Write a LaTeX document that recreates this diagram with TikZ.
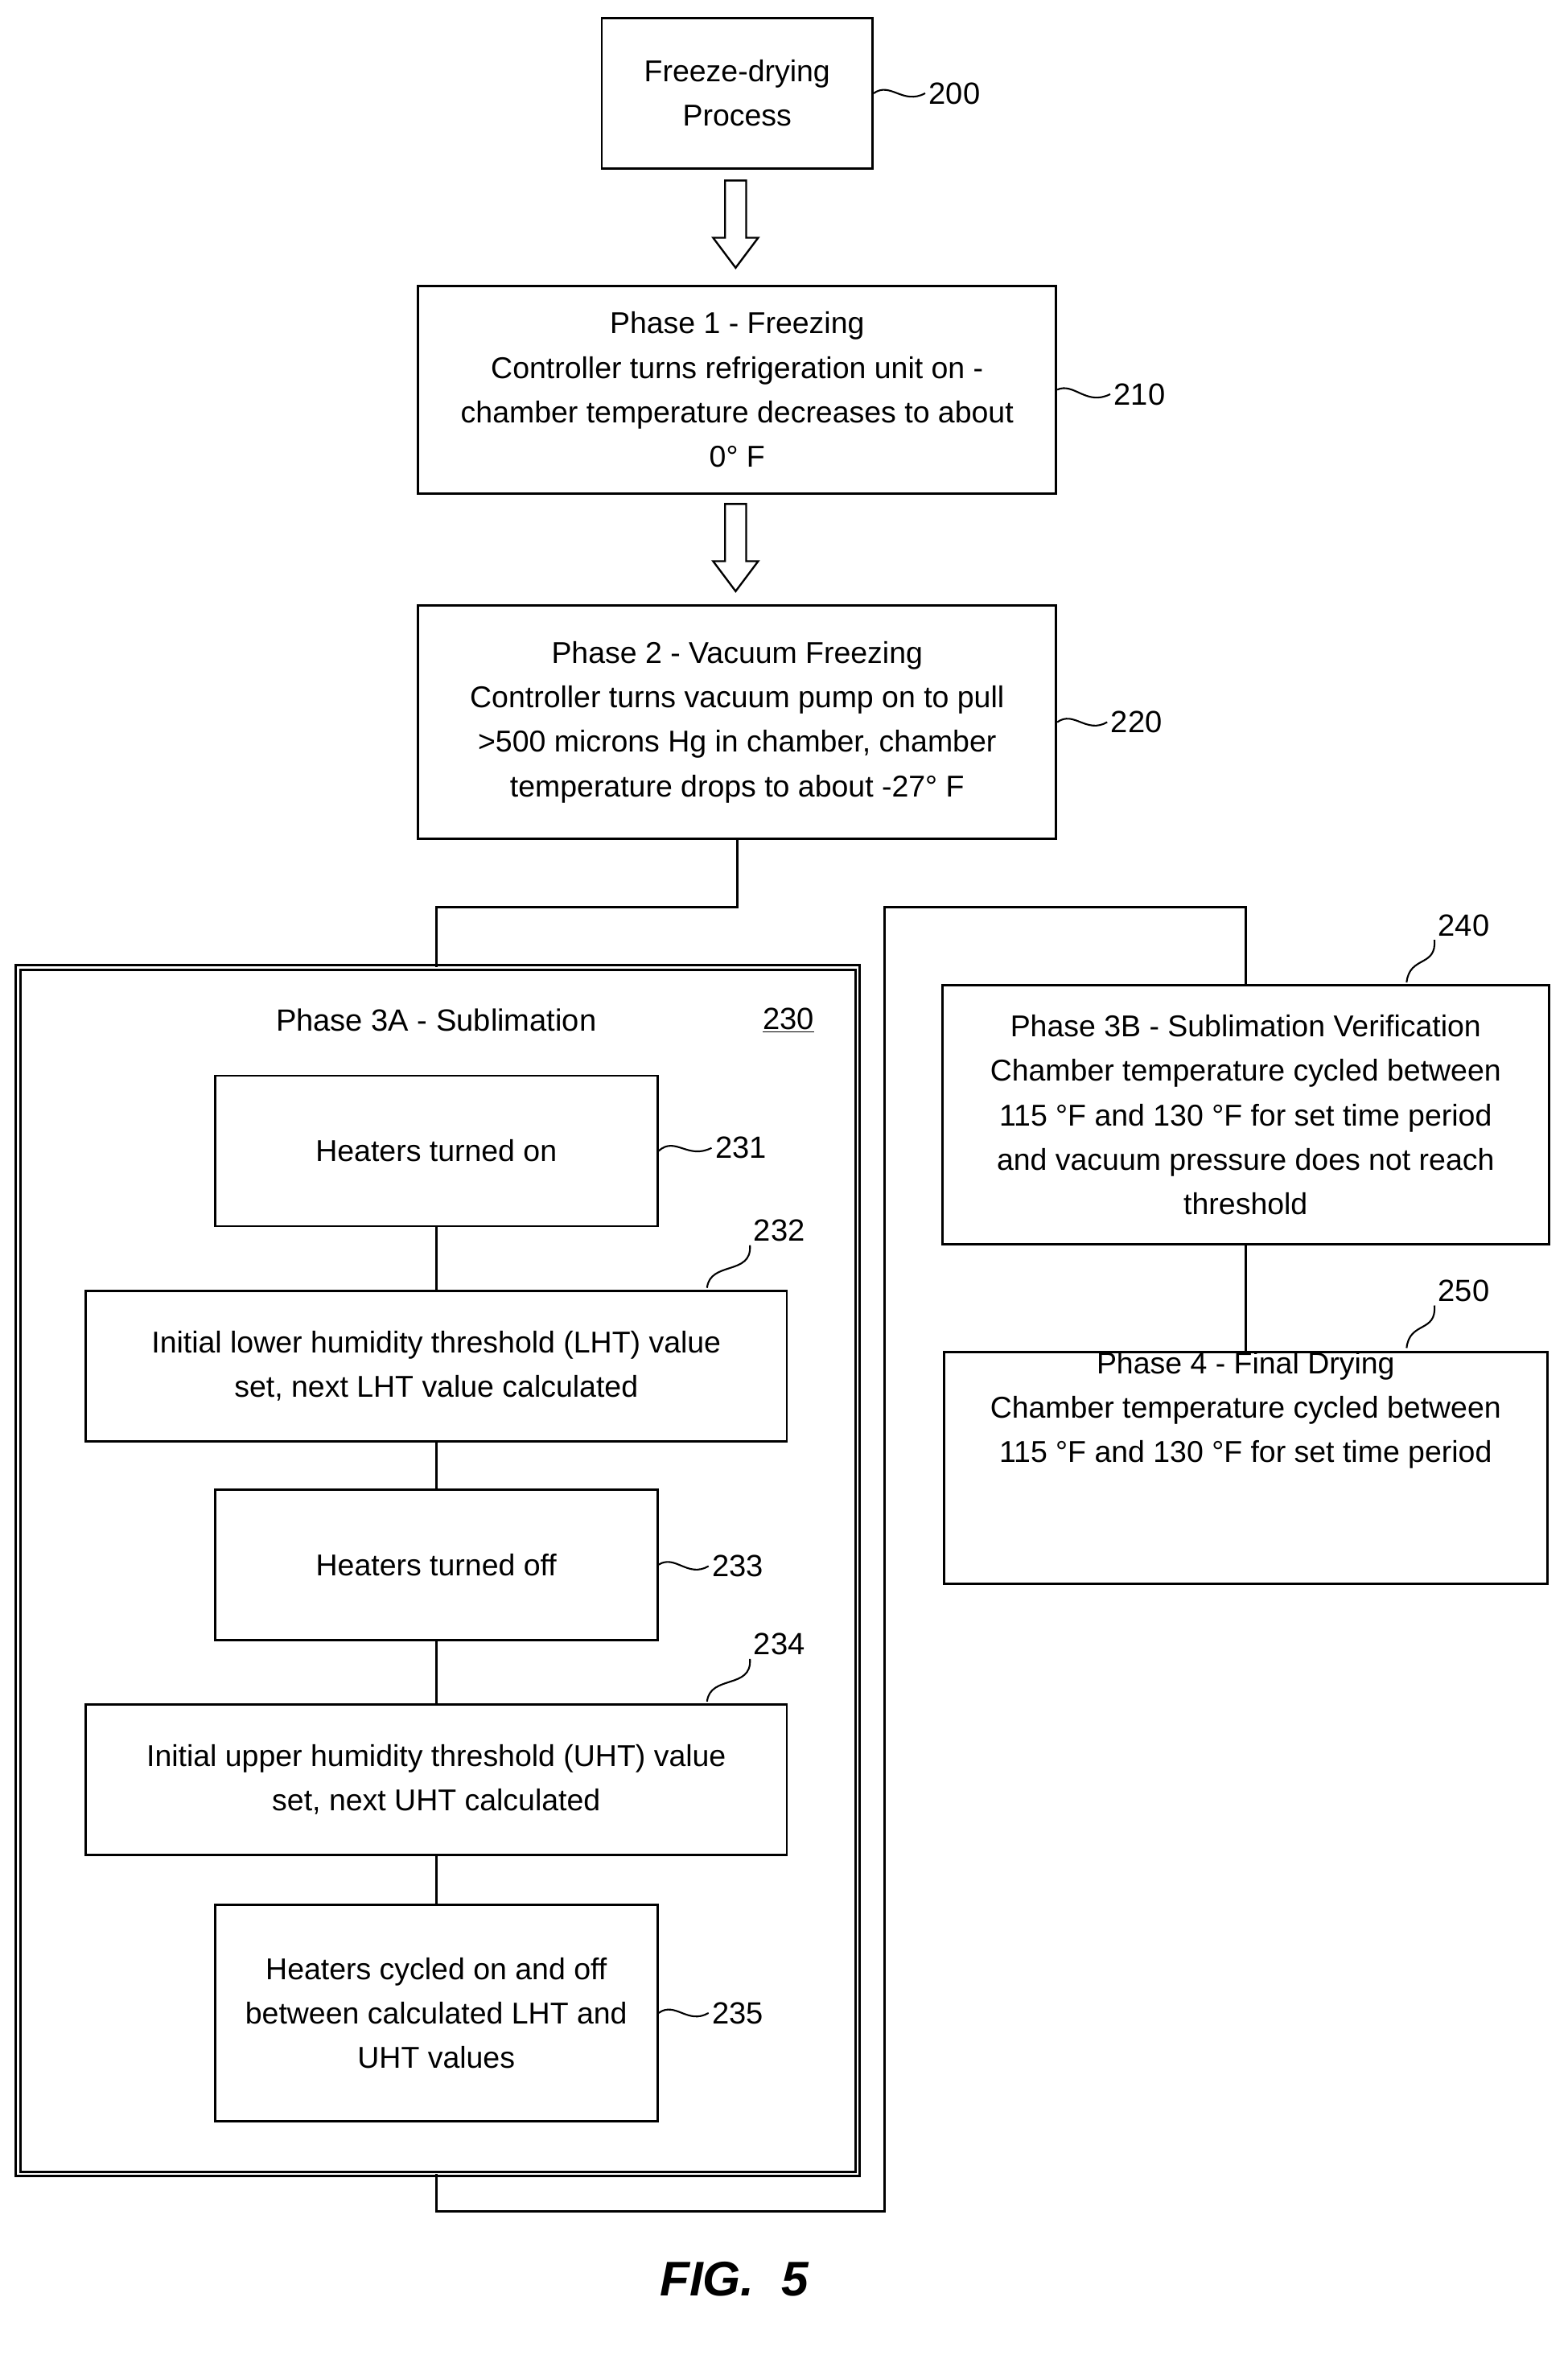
\documentclass[tikz,border=0pt]{standalone}
\usepackage{fontspec}
\setmainfont{Liberation Sans}
\begin{document}
\begin{tikzpicture}[x=0.05cm,y=-0.05cm,
  box/.style={draw,line width=2.2pt,align=center,inner sep=0pt,font=\fontsize{28.5}{42}\selectfont},
  lbl/.style={font=\fontsize{29}{34}\selectfont},
  ln/.style={line width=2.2pt},
  sq/.style={line width=1.6pt}]
\useasboundingbox (0,0) rectangle (1042,1568);
% boxes
\node[box,minimum width=180*0.05cm,minimum height=100*0.05cm] (b200) at (490,62) {Freeze-drying\\Process};
\node[box,minimum width=424*0.05cm,minimum height=138*0.05cm] (b210) at (490,259) {Phase 1 - Freezing\\Controller turns refrigeration unit on -\\chamber temperature decreases to about\\0° F};
\node[box,minimum width=424*0.05cm,minimum height=155*0.05cm] (b220) at (490,480) {Phase 2 - Vacuum Freezing\\Controller turns vacuum pump on to pull\\>500 microns Hg in chamber, chamber\\temperature drops to about -27° F};
\draw[ln,double,double distance=2pt] (12,643) rectangle (570,1445);
\coordinate (b230t) at (290,643);
\coordinate (b230b) at (290,1445);
\node[lbl] (t230) at (290,678) {Phase 3A - Sublimation};
\node[lbl] (n230) at (524,678) {\underline{230}};
\node[box,minimum width=294*0.05cm,minimum height=100*0.05cm] (b231) at (290,765) {Heaters turned on};
\node[box,minimum width=466*0.05cm,minimum height=100*0.05cm] (b232) at (290,908) {Initial lower humidity threshold (LHT) value\\set, next LHT value calculated};
\node[box,minimum width=294*0.05cm,minimum height=100*0.05cm] (b233) at (290,1040) {Heaters turned off};
\node[box,minimum width=466*0.05cm,minimum height=100*0.05cm] (b234) at (290,1183) {Initial upper humidity threshold (UHT) value\\set, next UHT calculated};
\node[box,minimum width=294*0.05cm,minimum height=144*0.05cm] (b235) at (290,1338) {Heaters cycled on and off\\between calculated LHT and\\UHT values};
\node[box,minimum width=403*0.05cm,minimum height=172*0.05cm] (b240) at (828,741) {Phase 3B - Sublimation Verification\\Chamber temperature cycled between\\115 °F and 130 °F for set time period\\and vacuum pressure does not reach\\threshold};
\node[box,minimum width=401*0.05cm,minimum height=154*0.05cm,anchor=north] (b250) at (828,898) {};
\node[align=center,font=\fontsize{28.5}{42}\selectfont,anchor=north] (t250) at (828,896) {Phase 4 - Final Drying\\Chamber temperature cycled between\\115 °F and 130 °F for set time period};
% hollow arrows
\foreach \y in {120,335}{
  \draw[line width=1.8pt] (482,\y) -- (496,\y) -- (496,\y+38) -- (504,\y+38) -- (489,\y+58) -- (474,\y+38) -- (482,\y+38) -- cycle;}
% connectors
\draw[ln] (b220.south) |- (290,603) -- (b230t);
\draw[ln] (b231) -- (b232); \draw[ln] (b232) -- (b233);
\draw[ln] (b233) -- (b234); \draw[ln] (b234) -- (b235);
\draw[ln] (b230b) -- (290,1470) -- (588,1470) -- (588,603) -| (b240.north);
\draw[ln] (b240) -- (b250);
% labels
\node[lbl,anchor=west] (n200) at (615,62) {200};
\draw[sq] (b200.east) .. controls (592,54) and (600,70) .. (n200.west);
\node[lbl,anchor=west] (n210) at (738,262) {210};
\draw[sq] (b210.east) .. controls (714,254) and (722,270) .. (n210.west);
\node[lbl,anchor=west] (n220) at (736,480) {220};
\draw[sq] (b220.east) .. controls (714,472) and (722,488) .. (n220.west);
\node[lbl,anchor=west] (n231) at (473,763) {231};
\draw[sq] (b231.east) .. controls (449,755) and (457,771) .. (n231.west);
\node[lbl,anchor=west] (n233) at (471,1041) {233};
\draw[sq] (b233.east) .. controls (449,1033) and (457,1049) .. (n233.west);
\node[lbl,anchor=west] (n235) at (471,1338) {235};
\draw[sq] (b235.east) .. controls (449,1330) and (457,1346) .. (n235.west);
\node[lbl] (n232) at (518,818) {232};
\draw[sq] (470,856) .. controls (472,838) and (500,848) .. (n232.south west);
\node[lbl] (n234) at (518,1093) {234};
\draw[sq] (470,1131) .. controls (472,1113) and (500,1123) .. (n234.south west);
\node[lbl] (n240) at (973,615) {240};
\draw[sq] (935,653) .. controls (937,635) and (955,643) .. (n240.south west);
\node[lbl] (n250) at (973,858) {250};
\draw[sq] (935,896) .. controls (937,878) and (955,886) .. (n250.south west);
\node[font=\fontsize{46}{52}\selectfont\bfseries\itshape] (fig) at (488,1515) {FIG.~~5};
\end{tikzpicture}
\end{document}
